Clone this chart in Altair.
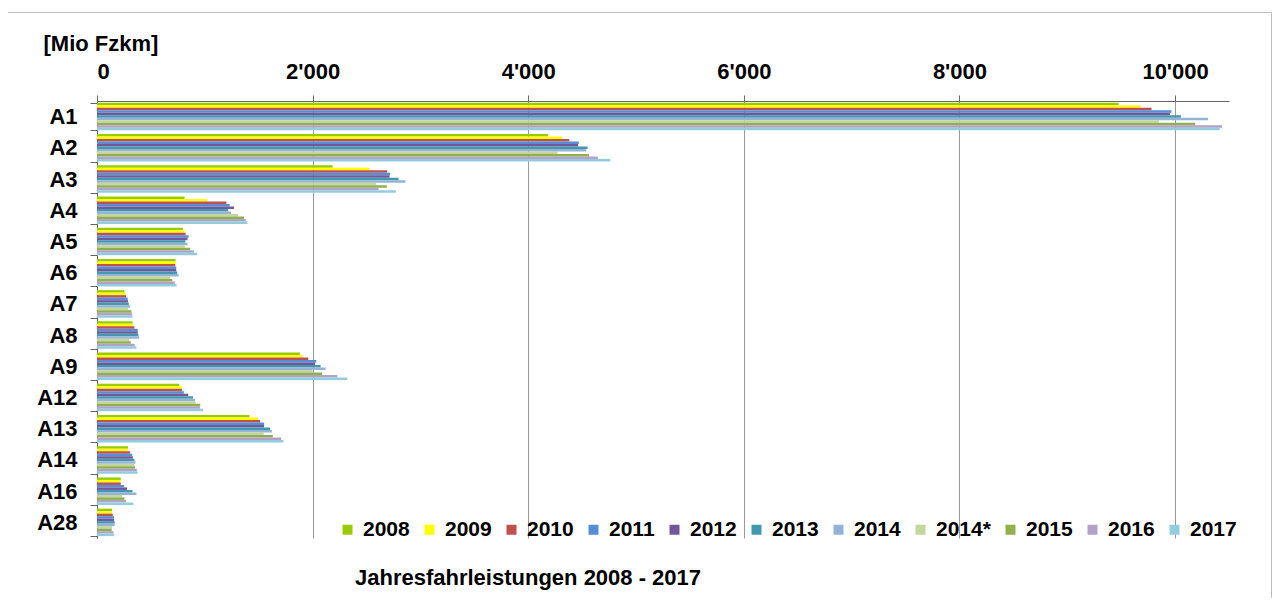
import altair as alt
import pandas as pd

categories = ["A1", "A2", "A3", "A4", "A5", "A6", "A7", "A8", "A9", "A12", "A13", "A14", "A16", "A28"]
years = ["2008", "2009", "2010", "2011", "2012", "2013", "2014", "2014*", "2015", "2016", "2017"]

v2008 = [9476, 4184, 2186, 812, 797, 729, 254, 329, 1882, 763, 1414, 288, 220, 140]
v2009 = [9680, 4313, 2527, 1023, 812, 729, 264, 335, 1907, 788, 1494, 285, 220, 140]
v2010 = [9782, 4381, 2691, 1200, 822, 726, 270, 347, 1960, 788, 1513, 307, 220, 146]
v2011 = [9966, 4469, 2719, 1231, 850, 735, 285, 378, 2034, 806, 1550, 326, 251, 158]
v2012 = [9952, 4463, 2713, 1271, 840, 735, 288, 378, 2022, 847, 1550, 332, 279, 158]
v2013 = [10054, 4551, 2797, 1215, 819, 744, 295, 384, 2074, 890, 1606, 347, 329, 164]
v2014 = [10306, 4537, 2862, 1243, 840, 757, 307, 391, 2121, 909, 1622, 357, 366, 164]
v2014s = [9850, 4272, 2589, 1308, 815, 679, 288, 298, 2000, 915, 1547, 344, 233, 140]
v2015 = [10184, 4565, 2688, 1364, 862, 698, 319, 313, 2087, 958, 1631, 353, 254, 136]
v2016 = [10435, 4646, 2611, 1380, 899, 722, 326, 350, 2229, 955, 1708, 369, 270, 152]
v2017 = [10414, 4762, 2772, 1395, 930, 738, 329, 366, 2322, 983, 1730, 378, 338, 158]

series = [v2008, v2009, v2010, v2011, v2012, v2013, v2014, v2014s, v2015, v2016, v2017]

colors = ["#99CC00", "#FFFF00", "#C0504D", "#558ED5", "#72589A", "#4198AF",
          "#95B3D7", "#C3D69B", "#8FB04B", "#B3A2C7", "#93CDDD"]

chart_title = ["Jahresfahrleistungen 2008 - 2017"]

rows = []
for yr, vals in zip(years, series):
    for c, v in zip(categories, vals):
        rows.append({"Autobahn": c, "Jahr": yr, "Wert": v})
df = pd.DataFrame(rows)

FONT = "Liberation Sans"

W, H = 1132, 437

bars = alt.Chart(df).mark_bar().encode(
    y=alt.Y("Autobahn:N", sort=categories,
            scale=alt.Scale(paddingInner=0.12, paddingOuter=0.06),
            axis=alt.Axis(title=None, tickBand="extent", tickSize=7, labelPadding=13,
                          labelFontSize=22, labelFontWeight="bold", labelColor="#000",
                          labelFont=FONT, domainColor="#666", tickColor="#666",
                          grid=False)),
    yOffset=alt.YOffset("Jahr:N", sort=years, scale=alt.Scale(paddingInner=0, paddingOuter=0)),
    x=alt.X("Wert:Q", scale=alt.Scale(domain=[0, 10500], nice=False),
            axis=alt.Axis(orient="top", values=[0, 2000, 4000, 6000, 8000, 10000],
                          labelExpr="replace(format(datum.value, ','), ',', \"'\")",
                          labelFontSize=22, labelFontWeight="bold", labelColor="#000",
                          labelFont=FONT, labelPadding=12, tickSize=6,
                          domainColor="#666", tickColor="#666",
                          grid=True, gridColor="#9A9A9A", gridWidth=1,
                          title="[Mio Fzkm]", titleFont=FONT, titleFontSize=22,
                          titleFontWeight="bold", titleColor="#000",
                          titleAnchor="start", titleAlign="left", titleBaseline="middle",
                          titleX=-54, titleY=-58)),
    color=alt.Color("Jahr:N", sort=years,
                    scale=alt.Scale(domain=years, range=colors),
                    legend=alt.Legend(title=None, orient="none", direction="horizontal",
                                      columns=11, legendX=240, legendY=418,
                                      symbolType="square", symbolSize=100,
                                      symbolStrokeWidth=0, symbolOffset=0,
                                      labelFontSize=21, labelFontWeight="bold",
                                      labelFont=FONT, labelColor="#000",
                                      labelOffset=5, columnPadding=9)),
)

frame = alt.Chart(pd.DataFrame({"f": [0]})).mark_rect(
    fill=None, stroke="#BFBFBF", strokeWidth=1
).encode(
    x=alt.value(-89.5), x2=alt.value(W + 42.5),
    y=alt.value(-88.5), y2=alt.value(H + 100)
)

title_text = alt.Chart(pd.DataFrame({"t": chart_title})).mark_text(
    align="left", baseline="middle", font=FONT, fontSize=22, fontWeight="bold", color="#000"
).encode(
    text="t:N", x=alt.value(258), y=alt.value(477)
)

chart = alt.layer(frame, bars, title_text).properties(
    width=W, height=H,
    autosize=alt.AutoSizeParams(type="none"),
    padding={"left": 89, "top": 93, "right": 43, "bottom": 60},
).configure_view(stroke=None)

chart.save("out.html", embed_options={"renderer": "svg", "actions": False})
